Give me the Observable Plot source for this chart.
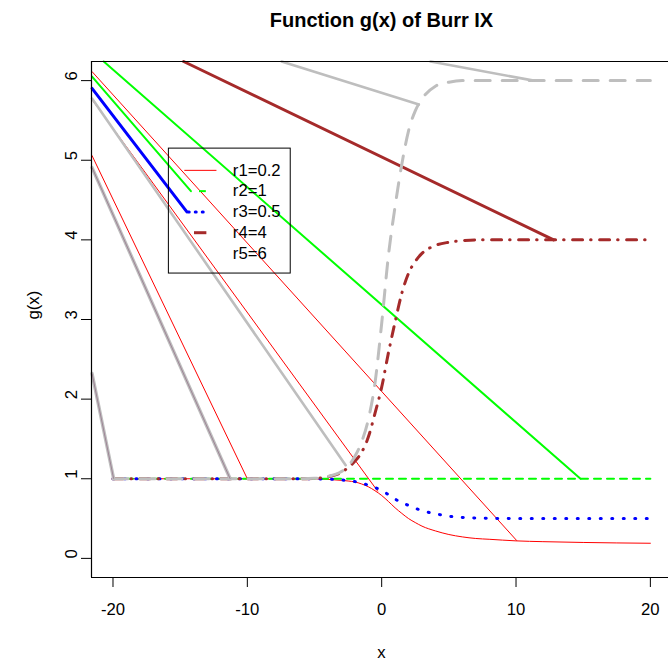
<!DOCTYPE html>
<html><head><meta charset="utf-8">
<script src="https://cdn.jsdelivr.net/npm/d3@7"></script>
<script src="https://cdn.jsdelivr.net/npm/@observablehq/plot@0.6"></script>
<style>html,body{margin:0;padding:0;background:#fff} svg{display:block}</style>
</head><body><div id="chart"></div>
<script>
// ---- data ----
const xGrid = [-20, -6, -5, -4, -3, -2.5, -2, -1.5, -1, -0.5, 0, 0.5, 1, 1.5, 2, 2.5, 3, 4, 5, 6, 7, 8, 10, 12, 15, 20];
const gR1 = [1, 1, 0.998, 0.992, 0.98, 0.972, 0.96, 0.935, 0.9, 0.85, 0.79, 0.715, 0.635, 0.565, 0.5, 0.45, 0.405, 0.345, 0.3, 0.27, 0.25, 0.24, 0.22, 0.21, 0.2, 0.19];
const gR2 = [1, 1, 1, 1, 1, 1, 1, 1, 1, 1, 1, 1, 1, 1, 1, 1, 1, 1, 1, 1, 1, 1, 1, 1, 1, 1];
const gR3 = [1, 1, 0.999, 0.995, 0.985, 0.976, 0.965, 0.945, 0.92, 0.89, 0.855, 0.8, 0.745, 0.7, 0.665, 0.63, 0.6, 0.56, 0.53, 0.515, 0.507, 0.503, 0.5, 0.5, 0.5, 0.5];
const gR4 = [1, 1, 1.005, 1.025, 1.08, 1.14, 1.22, 1.33, 1.52, 1.82, 2.15, 2.58, 2.97, 3.33, 3.58, 3.73, 3.83, 3.93, 3.97, 3.99, 4, 4, 4, 4, 4, 4];
const gR5 = [1, 1, 1.005, 1.03, 1.09, 1.16, 1.28, 1.46, 1.74, 2.2, 2.95, 3.8, 4.42, 4.95, 5.37, 5.62, 5.77, 5.93, 5.98, 6, 6, 6, 6, 6, 6, 6];

// stray straight segments seen in the picture: [x1, g1, x2, g2]
const strayR1 = [[-21.56, 6.113, 10.04, 0.226], [-21.56, 5.761, -0.3, 0.845], [-21.56, 5.058, -10.0, 1.0]];
const strayR2 = [[-20.69, 6.24, 14.8, 1.0], [-21.56, 6.05, -14.2, 4.612]];
const strayR3 = [[-21.56, 5.903, -14.5, 4.351]];
const strayR4 = [[-14.74, 6.24, 12.8, 4.0]];
const strayR5 = [[-21.56, 5.774, -2.68, 1.17], [-7.45, 6.24, 2.77, 5.70], [3.64, 6.24, 11.32, 6.0]];
const strayMix = [[-21.56, 4.908, -11.28, 1.0], [-21.56, 2.322, -19.95, 1.0]];

const seriesNames = ["r1", "r2", "r3", "r4", "r5"];
const legendLabels = ["r1=0.2", "r2=1", "r3=0.5", "r4=4", "r5=6"];
const legendRowG = [4.873, 4.612, 4.351, 4.090, 3.828];
const legendSegX1 = [-14.69, -13.6, -14.4, -13.97, null];
const legendSegX2 = [-12.30, -13.09, -12.86, -13.05, null];
const legendTextX = -11.08;
const legendBoxX = [-15.84, -6.77];
const legendBoxG = [3.577, 5.146];

const xTicks = [-20, -10, 0, 10, 20];
const yTicks = [0, 1, 2, 3, 4, 5, 6];
const titleText = "Function g(x) of Burr IX";
const xLabel = "x";
const yLabel = "g(x)";

// ---- styles ----
const styles = {
  r1: {stroke: "#FF0000", strokeWidth: 1},
  r2: {stroke: "#00FF00", strokeWidth: 2, strokeDasharray: "7,6"},
  r3: {stroke: "#0000FF", strokeWidth: 3, strokeDasharray: "1,10.5"},
  r4: {stroke: "#A52A2A", strokeWidth: 3, strokeDasharray: "10,8,0.5,8.5"},
  r5: {stroke: "#BEBEBE", strokeWidth: 3, strokeDasharray: "15,12"}
};
const strayWidth = {r1: 1, r2: 2, r3: 3, r4: 3, r5: 2.6};

const gData = {r1: gR1, r2: gR2, r3: gR3, r4: gR4, r5: gR5};
const strayData = {r1: strayR1, r2: strayR2, r3: strayR3, r4: strayR4, r5: strayR5};

const marks = [];
const fs = 16.7;

for (const s of seriesNames) {
  const rows = xGrid.map((x, i) => ({x, g: gData[s][i]}));
  marks.push(Plot.line(rows, {x: "x", y: "g", curve: "monotone-x", strokeLinecap: "round", strokeLinejoin: "round", ...styles[s]}));
  marks.push(Plot.link(strayData[s], {x1: d => d[0], y1: d => d[1], x2: d => d[2], y2: d => d[3],
    stroke: styles[s].stroke, strokeWidth: strayWidth[s], strokeLinecap: "round"}));
}
marks.push(Plot.link(strayMix, {x1: d => d[0], y1: d => d[1], x2: d => d[2], y2: d => d[3], stroke: "#BEBEBE", strokeWidth: 3.4, strokeLinecap: "round"}));
marks.push(Plot.link(strayMix, {x1: d => d[0], y1: d => d[1], x2: d => d[2], y2: d => d[3], stroke: "#9E8496", strokeWidth: 1}));

// legend
marks.push(Plot.rect([{x1: legendBoxX[0], x2: legendBoxX[1], y1: legendBoxG[0], y2: legendBoxG[1]}],
  {x1: "x1", x2: "x2", y1: "y1", y2: "y2", fill: "white", fillOpacity: 0, stroke: "black", strokeWidth: 1}));
legendLabels.forEach((lab, i) => {
  const s = seriesNames[i];
  if (legendSegX1[i] != null) {
    const st = {...styles[s]};
    if (s === "r2" || s === "r4") delete st.strokeDasharray;
    if (s === "r3") st.strokeDasharray = "1,6";
    marks.push(Plot.link([{a: legendSegX1[i], b: legendSegX2[i], g: legendRowG[i]}],
      {x1: "a", x2: "b", y1: "g", y2: "g", strokeLinecap: s === "r3" ? "round" : "butt", ...st}));
  }
});
marks.push(Plot.text(legendLabels.map((t, i) => ({t, g: legendRowG[i]})),
  {x: () => legendTextX, y: "g", text: "t", textAnchor: "start", fontSize: fs, fill: "black"}));

// box (left, top, bottom; right edge lies outside the picture)
marks.push(Plot.ruleY([-0.24, 6.24], {stroke: "black", strokeWidth: 1}));
marks.push(Plot.ruleX([-21.6], {stroke: "black", strokeWidth: 1.2}));

// axes
marks.push(Plot.axisX(xTicks, {anchor: "bottom", tickSize: 10, tickPadding: 16, fontSize: fs, label: null,
  tickFormat: d => (d < 0 ? "-" + Math.abs(d) : String(d)), stroke: "black", fill: "black"}));
marks.push(Plot.axisY(yTicks, {anchor: "left", tickSize: 10, tickFormat: () => "", label: null, stroke: "black"}));
marks.push(Plot.text(yTicks, {frameAnchor: "left", y: d => d, text: d => String(d), rotate: -90, dx: -20, fontSize: fs, fill: "black", lineAnchor: "middle"}));

// titles
marks.push(Plot.text([titleText], {frameAnchor: "top", dx: 1.5, dy: -41, lineAnchor: "middle", fontSize: 20, fontWeight: "bold", fill: "black"}));
marks.push(Plot.text([xLabel], {frameAnchor: "bottom", dx: 1.5, dy: 75, lineAnchor: "middle", fontSize: fs, fill: "black"}));
marks.push(Plot.text([yLabel], {frameAnchor: "left", dx: -58, rotate: -90, lineAnchor: "middle", fontSize: fs, fill: "black"}));

const chart = Plot.plot({
  width: 668, height: 664,
  marginLeft: 91, marginRight: 0, marginTop: 61, marginBottom: 87,
  x: {domain: [-21.6, 21.35]},
  y: {domain: [-0.24, 6.24]},
  style: {fontFamily: "'Liberation Sans', Arial, Helvetica, sans-serif", fontSize: "16.7px", background: "white", color: "black"},
  marks
});
document.getElementById("chart").appendChild(chart);
</script>
</body></html>
